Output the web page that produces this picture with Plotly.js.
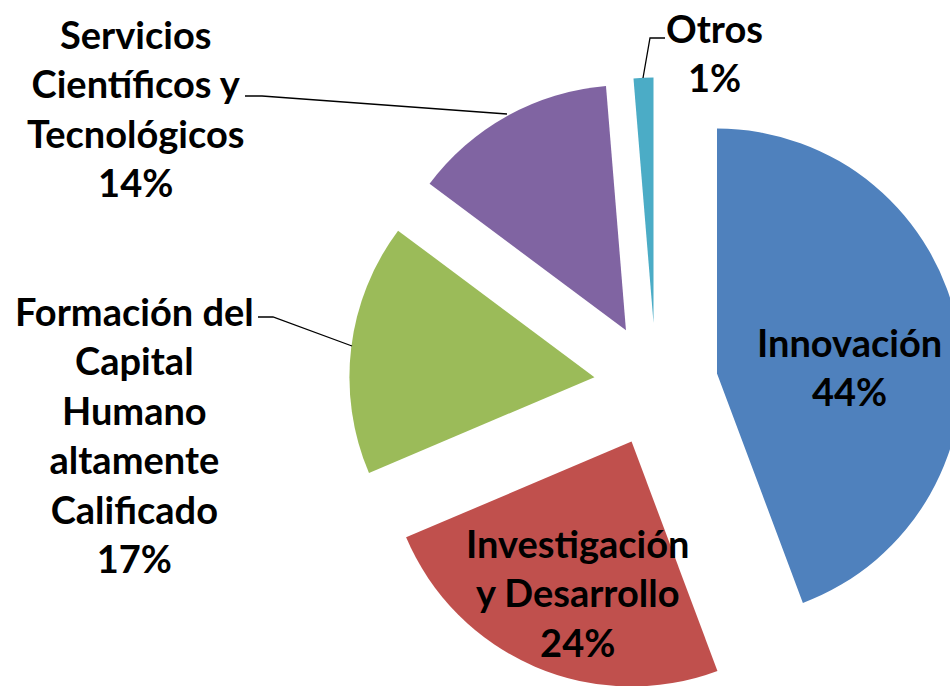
<!DOCTYPE html>
<html>
<head>
<meta charset="utf-8">
<script src="https://cdn.plot.ly/plotly-3.0.1.min.js"></script>
<style>
  html, body { margin: 0; padding: 0; background: #fff; overflow: hidden; }
  #wrap { width: 950px; height: 686px; overflow: hidden; position: relative; }
  #chart { position: absolute; left: 0; top: 0; }
</style>
</head>
<body>
<div id="wrap"><div id="chart"></div></div>
<script>
// ---- data ----
var categories = ["Innovación", "Investigación y Desarrollo", "Formación del Capital Humano altamente Calificado", "Servicios Científicos y Tecnológicos", "Otros"];
var labelLines = [
  ["Innovación"],
  ["Investigación", "y Desarrollo"],
  ["Formación del", "Capital", "Humano", "altamente", "Calificado"],
  ["Servicios", "Científicos y", "Tecnológicos"],
  ["Otros"]
];
var values = [44.3, 24.3, 16.6, 13.5, 1.3];
var colors = ["#4F81BD", "#C0504D", "#9BBB59", "#8064A2", "#4BACC6"];

// ---- layout helpers ----
var W = 1000, H = 700;
function px(x) { return x / W; }
function py(y) { return 1 - y / H; }

var total = values.reduce(function (a, b) { return a + b; }, 0);
var pct = values.map(function (v) { return Math.round(v / total * 100) + "%"; });

var trace = {
  type: "pie",
  labels: categories,
  values: values,
  marker: { colors: colors, line: { width: 0 } },
  sort: false,
  direction: "clockwise",
  rotation: 0,
  pull: 0.253,
  textinfo: "none",
  hoverinfo: "label+percent",
  domain: { x: [0.349, 0.963], y: [0.0121, 0.8893] },
  showlegend: false
};

// label anchor positions (pixel centres)
var labelPos = [
  [849, 367],
  [577, 592],
  [134, 434],
  [135, 108],
  [714, 52]
];

var font = { family: "Lato, 'Open Sans', sans-serif", size: 38, color: "#000", weight: "bold" };
var annotations = categories.map(function (c, i) {
  return {
    xref: "paper", yref: "paper",
    x: px(labelPos[i][0]), y: py(labelPos[i][1]),
    xanchor: "center", yanchor: "middle",
    text: labelLines[i].concat([pct[i]]).join("<br>"),
    showarrow: false,
    align: "center",
    font: font
  };
});

function pathOf(pts) {
  return pts.map(function (p, k) { return (k ? "L" : "M") + px(p[0]) + "," + py(p[1]); }).join(" ");
}
var leaders = [
  [[245, 96], [262, 96], [507, 114]],
  [[258, 317], [273, 317], [352, 346]],
  [[665, 38], [650, 38], [643, 78]]
];
var shapes = leaders.map(function (pts) {
  return { type: "path", xref: "paper", yref: "paper", path: pathOf(pts), line: { color: "#000", width: 1.3 } };
});

var layout = {
  width: W, height: H,
  margin: { l: 0, r: 0, t: 0, b: 0, pad: 0 },
  paper_bgcolor: "#fff",
  plot_bgcolor: "#fff",
  showlegend: false,
  annotations: annotations,
  shapes: shapes
};

Plotly.newPlot("chart", [trace], layout, { displayModeBar: false, staticPlot: true });
</script>
</body>
</html>
